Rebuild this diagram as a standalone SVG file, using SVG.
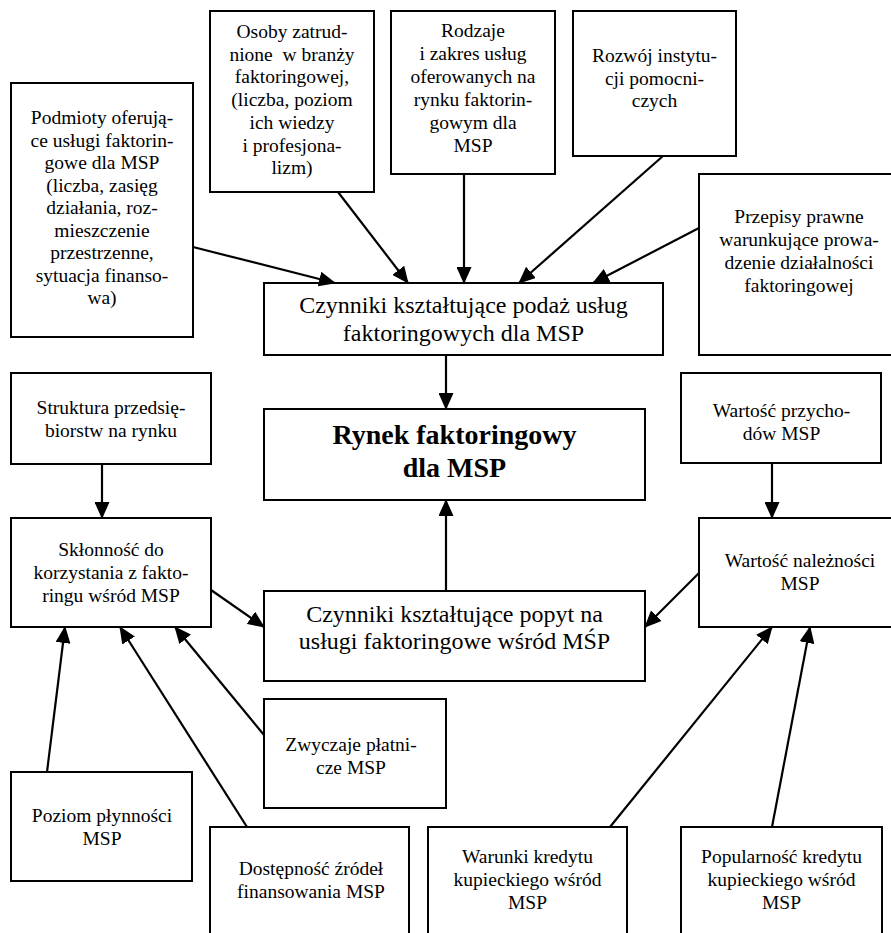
<svg xmlns="http://www.w3.org/2000/svg" width="891" height="933" viewBox="0 0 891 933">
<style>
rect{fill:#fff;stroke:#000;stroke-width:2}
#connectors line{stroke:#000;stroke-width:2.2;marker-end:url(#ah)}
</style>
<defs>
<marker id="ah" markerUnits="userSpaceOnUse" markerWidth="17" markerHeight="15" refX="16" refY="7.5" orient="auto">
<path d="M0,0 L17,7.5 L0,15 z" fill="#000"/>
</marker>
</defs>
<rect x="0" y="0" width="891" height="933" style="stroke:none"/>
<g font-family="Liberation Serif, Times New Roman, serif" font-size="19.5" text-anchor="middle" fill="#000">
<g id="podmioty"><rect x="11" y="83" width="182" height="254"/>
<text x="102"><tspan x="102" y="124">Podmioty oferują-</tspan><tspan x="102" y="146.5">ce usługi faktorin-</tspan><tspan x="102" y="169">gowe dla MSP</tspan><tspan x="102" y="191.5">(liczba, zasięg</tspan><tspan x="102" y="214">działania, roz-</tspan><tspan x="102" y="236.5">mieszczenie</tspan><tspan x="102" y="259">przestrzenne,</tspan><tspan x="102" y="281.5">sytuacja finanso-</tspan><tspan x="102" y="304">wa)</tspan></text></g>
<g id="osoby"><rect x="210" y="11" width="164" height="181"/>
<text x="292"><tspan x="292" y="38">Osoby zatrud-</tspan><tspan x="292" y="60.7" xml:space="preserve">nione  w branży</tspan><tspan x="292" y="83.4">faktoringowej,</tspan><tspan x="292" y="106.1">(liczba, poziom</tspan><tspan x="292" y="128.8">ich wiedzy</tspan><tspan x="292" y="151.5">i profesjona-</tspan><tspan x="292" y="174.2">lizm)</tspan></text></g>
<g id="rodzaje"><rect x="391" y="11" width="164" height="163"/>
<text x="473"><tspan x="473" y="37">Rodzaje</tspan><tspan x="473" y="60">i zakres usług</tspan><tspan x="473" y="83">oferowanych na</tspan><tspan x="473" y="106">rynku faktorin-</tspan><tspan x="473" y="129">gowym dla</tspan><tspan x="473" y="152">MSP</tspan></text></g>
<g id="rozwoj"><rect x="573" y="11" width="163" height="145"/>
<text x="654.5"><tspan x="654.5" y="62">Rozwój instytu-</tspan><tspan x="654.5" y="84.5">cji pomocni-</tspan><tspan x="654.5" y="107">czych</tspan></text></g>
<g id="przepisy"><rect x="699" y="174" width="201" height="181"/>
<text x="799"><tspan x="799" y="223">Przepisy prawne</tspan><tspan x="799" y="246">warunkujące prowa-</tspan><tspan x="799" y="269">dzenie działalności</tspan><tspan x="799" y="292">faktoringowej</tspan></text></g>
<g id="podaz"><rect x="264" y="283" width="399" height="72"/>
<text font-size="24" x="463.5"><tspan x="463.5" y="313">Czynniki kształtujące podaż usług</tspan><tspan x="463.5" y="341">faktoringowych dla MSP</tspan></text></g>
<g id="rynek"><rect x="264" y="409" width="381" height="91"/>
<text font-size="28" font-weight="bold" x="454.5"><tspan x="454.5" y="444">Rynek faktoringowy</tspan><tspan x="454.5" y="477">dla MSP</tspan></text></g>
<g id="struktura"><rect x="11" y="373" width="200" height="91"/>
<text x="111"><tspan x="111" y="414">Struktura przedsię-</tspan><tspan x="111" y="437">biorstw na rynku</tspan></text></g>
<g id="sklonnosc"><rect x="11" y="518" width="200" height="109"/>
<text x="111"><tspan x="111" y="556">Skłonność do</tspan><tspan x="111" y="579">korzystania z fakto-</tspan><tspan x="111" y="602">ringu wśród MSP</tspan></text></g>
<g id="popyt"><rect x="264" y="591" width="381" height="90"/>
<text font-size="24" x="454.5"><tspan x="454.5" y="622">Czynniki kształtujące popyt na</tspan><tspan x="454.5" y="649">usługi faktoringowe wśród MŚP</tspan></text></g>
<g id="przychody"><rect x="681" y="373" width="200" height="90"/>
<text x="781.5"><tspan x="781.5" y="417">Wartość przycho-</tspan><tspan x="781.5" y="440">dów MSP</tspan></text></g>
<g id="naleznosci"><rect x="699" y="518" width="201" height="109"/>
<text x="800"><tspan x="800" y="567">Wartość należności</tspan><tspan x="800" y="590">MSP</tspan></text></g>
<g id="zwyczaje"><rect x="264" y="699" width="182" height="109"/>
<text x="351"><tspan x="351" y="751">Zwyczaje płatni-</tspan><tspan x="351" y="774">cze MSP</tspan></text></g>
<g id="poziom"><rect x="11" y="772" width="181" height="109"/>
<text x="102"><tspan x="102" y="822">Poziom płynności</tspan><tspan x="102" y="845">MSP</tspan></text></g>
<g id="dostepnosc"><rect x="210" y="827" width="199" height="120"/>
<text x="311"><tspan x="311" y="875">Dostępność źródeł</tspan><tspan x="311" y="898">finansowania MSP</tspan></text></g>
<g id="warunki"><rect x="428" y="827" width="199" height="120"/>
<text x="527.5"><tspan x="527.5" y="863">Warunki kredytu</tspan><tspan x="527.5" y="886">kupieckiego wśród</tspan><tspan x="527.5" y="909">MSP</tspan></text></g>
<g id="popularnosc"><rect x="681" y="827" width="201" height="120"/>
<text x="781.5"><tspan x="781.5" y="863">Popularność kredytu</tspan><tspan x="781.5" y="886">kupieckiego wśród</tspan><tspan x="781.5" y="909">MSP</tspan></text></g>
</g>
<g id="connectors">
<line x1="193" y1="247" x2="335" y2="283"/>
<line x1="338" y1="192" x2="408" y2="283"/>
<line x1="464" y1="174" x2="464" y2="283"/>
<line x1="663" y1="156" x2="519" y2="283"/>
<line x1="699" y1="228" x2="593" y2="283"/>
<line x1="446" y1="355" x2="446" y2="409"/>
<line x1="446" y1="591" x2="446" y2="500"/>
<line x1="102" y1="464" x2="102" y2="518"/>
<line x1="772" y1="463" x2="772" y2="518"/>
<line x1="211" y1="590" x2="264" y2="627"/>
<line x1="699" y1="573" x2="645" y2="627"/>
<line x1="47" y1="772" x2="65" y2="627"/>
<line x1="247" y1="827" x2="120" y2="627"/>
<line x1="264" y1="735" x2="175" y2="627"/>
<line x1="610" y1="827" x2="772" y2="627"/>
<line x1="772" y1="827" x2="810" y2="627"/>
</g>
</svg>
